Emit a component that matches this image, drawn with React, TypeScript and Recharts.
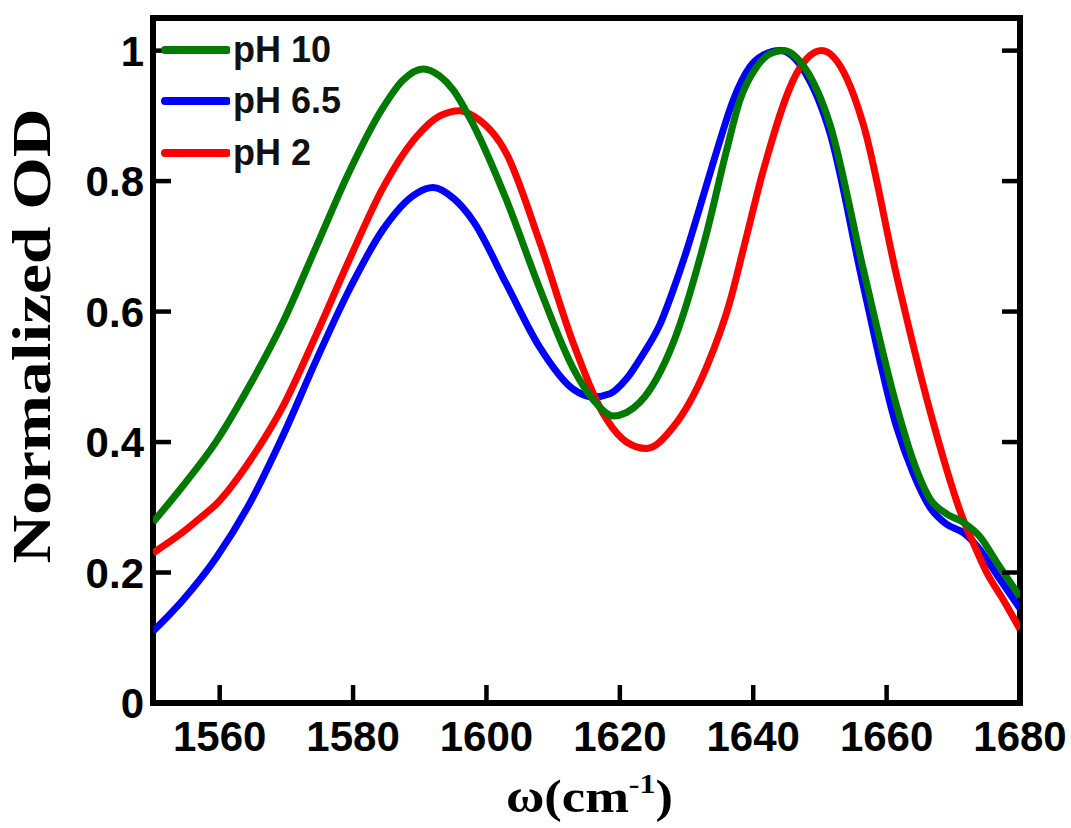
import React from 'react';
import {
  LineChart,
  Line,
  XAxis,
  YAxis,
  ReferenceArea,
  Label,
} from 'recharts';

// wavenumber (cm-1) / normalized OD
const pH10X = [1550, 1554.5, 1559.5, 1564.5, 1569.5, 1574.5, 1579.5, 1584.5, 1587.5, 1590.5, 1593, 1595, 1598, 1603, 1608, 1613, 1616, 1619, 1623, 1628, 1633, 1636, 1638, 1640.5, 1642.5, 1644.5, 1647.5, 1651.5, 1656.5, 1661.5, 1664, 1666.5, 1669, 1671.5, 1674, 1676.5, 1680];
const pH10Y = [0.277, 0.333, 0.401, 0.487, 0.584, 0.7, 0.816, 0.913, 0.955, 0.972, 0.961, 0.94, 0.887, 0.771, 0.635, 0.513, 0.465, 0.44, 0.461, 0.552, 0.72, 0.847, 0.924, 0.975, 0.995, 1.0, 0.977, 0.887, 0.665, 0.455, 0.371, 0.313, 0.29, 0.277, 0.255, 0.216, 0.163];

const pH65X = [1550, 1554.5, 1559.5, 1564.5, 1569.5, 1574.5, 1579.5, 1584.5, 1589.5, 1592, 1595, 1598, 1603, 1608, 1613, 1616, 1618.5, 1621, 1623.5, 1626, 1628, 1630, 1632, 1634.5, 1637, 1639.5, 1641.5, 1644, 1647.5, 1651.5, 1656.5, 1661.5, 1664, 1666.5, 1669, 1671.5, 1674, 1676.5, 1680];
const pH65Y = [0.11, 0.158, 0.223, 0.306, 0.41, 0.526, 0.635, 0.726, 0.781, 0.79, 0.774, 0.739, 0.642, 0.545, 0.481, 0.469, 0.474, 0.497, 0.535, 0.58, 0.633, 0.693, 0.76, 0.845, 0.924, 0.975, 0.993, 1.0, 0.971, 0.874, 0.64, 0.423, 0.352, 0.3, 0.274, 0.261, 0.235, 0.197, 0.145];

const pH2X = [1550, 1554.5, 1557, 1559.5, 1564.5, 1569.5, 1574.5, 1579.5, 1584.5, 1589.5, 1593, 1596, 1598, 1603, 1608, 1613, 1618, 1621, 1624, 1628, 1633, 1636.5, 1638.5, 1641.5, 1646.5, 1650.25, 1654, 1656.5, 1661.5, 1666.5, 1671.5, 1673, 1675, 1677.5, 1680];
const pH2Y = [0.23, 0.262, 0.283, 0.305, 0.371, 0.455, 0.565, 0.681, 0.79, 0.868, 0.9, 0.908, 0.9, 0.842, 0.706, 0.552, 0.435, 0.4, 0.39, 0.423, 0.515, 0.615, 0.695, 0.816, 0.965, 1.0, 0.958, 0.887, 0.655, 0.448, 0.281, 0.245, 0.2, 0.158, 0.113];

const xTicks = [1560, 1580, 1600, 1620, 1640, 1660, 1680];
const yTicks = [0, 0.2, 0.4, 0.6, 0.8, 1];

const toPoints = (xs: number[], ys: number[]) => xs.map((w, i) => ({ w, od: ys[i] }));

// legend order matches the reference (top to bottom)
const series = [
  { name: 'pH 10', color: '#007a00', data: toPoints(pH10X, pH10Y) },
  { name: 'pH 6.5', color: '#0000ff', data: toPoints(pH65X, pH65Y) },
  { name: 'pH 2', color: '#ff0000', data: toPoints(pH2X, pH2Y) },
];
// drawing order: blue first, then red, green on top
const drawOrder = [1, 2, 0];

const tickFont = "'Liberation Sans', Arial, sans-serif";
const titleFont = "'Liberation Serif', 'Times New Roman', serif";
const TICK_LEN = 18;

const BottomTick = ({ x, y, payload }: any) => (
  <g>
    <line x1={x} x2={x} y1={y} y2={y - TICK_LEN} stroke="#000" strokeWidth={4.5} />
    <text x={x} y={y + 48} textAnchor="middle" fontFamily={tickFont} fontWeight="bold" fontSize={42} fill="#000">
      {payload.value}
    </text>
  </g>
);

const TopTick = ({ x, y }: any) => (
  <line x1={x} x2={x} y1={y} y2={y + TICK_LEN} stroke="#000" strokeWidth={4.5} />
);

const LeftTick = ({ x, y, payload }: any) => (
  <g>
    <line x1={x} x2={x + TICK_LEN} y1={y} y2={y} stroke="#000" strokeWidth={4.5} />
    <text x={x - 9} y={y + 15} textAnchor="end" fontFamily={tickFont} fontWeight="bold" fontSize={42} fill="#000">
      {String(payload.value)}
    </text>
  </g>
);

const RightTick = ({ x, y }: any) => (
  <line x1={x} x2={x - TICK_LEN} y1={y} y2={y} stroke="#000" strokeWidth={4.5} />
);

// legend sits inside the plot, top-left; drawn as an overlay so it takes no chart space
const LegendBox = () => (
  <div style={{ position: 'absolute', left: 160, top: 24, display: 'flex', flexDirection: 'column' }}>
    {series.map((s) => (
      <div key={s.name} style={{ display: 'flex', alignItems: 'center', height: 51.5 }}>
        <svg width={70} height={12}>
          <line x1={5} x2={67} y1={6} y2={6} stroke={s.color} strokeWidth={8} strokeLinecap="round" />
        </svg>
        <span
          style={{
            marginLeft: 3,
            fontFamily: tickFont,
            fontWeight: 'bold',
            fontSize: 36,
            color: '#111',
            lineHeight: '36px',
          }}
        >
          {s.name}
        </span>
      </div>
    ))}
  </div>
);

export default function App() {
  return (
    <div style={{ position: 'absolute', left: 0, top: 0, width: 1071, height: 828, background: '#fff' }}>
      <LineChart width={1071} height={828} margin={{ top: 8, right: 41, bottom: 65, left: 83 }}>
        <XAxis
          xAxisId="b"
          type="number"
          dataKey="w"
          domain={[1550, 1680]}
          ticks={xTicks}
          axisLine={false}
          tickLine={false}
          tickSize={0}
          tickMargin={0}
          height={60}
          tick={<BottomTick />}
          interval={0}
          allowDataOverflow
        >
          <Label
            content={() => (
              <text x={506} y={812} textLength={167} lengthAdjust="spacingAndGlyphs" fontFamily={titleFont} fontWeight="bold" fontSize={46} fill="#000">
                ω(cm<tspan dy={-19} fontSize={28}>-1</tspan><tspan dy={19}>)</tspan>
              </text>
            )}
          />
        </XAxis>
        <XAxis
          xAxisId="t"
          orientation="top"
          type="number"
          domain={[1550, 1680]}
          ticks={xTicks.slice(0, -1)}
          axisLine={false}
          tickLine={false}
          tickSize={0}
          tickMargin={0}
          height={10}
          tick={<TopTick />}
          interval={0}
          allowDataOverflow
        />
        <YAxis
          yAxisId="l"
          type="number"
          domain={[0, 1.05]}
          ticks={yTicks}
          axisLine={false}
          tickLine={false}
          tickSize={0}
          tickMargin={0}
          width={70}
          tick={<LeftTick />}
          interval={0}
          allowDataOverflow
        >
          <Label
            content={() => (
              <text
                x={50}
                y={336}
                transform="rotate(-90, 50, 336)"
                textAnchor="middle"
                textLength={455}
                lengthAdjust="spacingAndGlyphs"
                fontFamily={titleFont}
                fontWeight="bold"
                fontSize={54}
                fill="#000"
              >
                Normalized OD
              </text>
            )}
          />
        </YAxis>
        <YAxis
          yAxisId="r"
          orientation="right"
          type="number"
          domain={[0, 1.05]}
          ticks={yTicks.slice(1)}
          axisLine={false}
          tickLine={false}
          tickSize={0}
          tickMargin={0}
          width={10}
          tick={<RightTick />}
          interval={0}
          allowDataOverflow
        />
        {drawOrder.map((i) => {
          const s = series[i];
          return (
            <Line
              key={s.name}
              xAxisId="b"
              yAxisId="l"
              data={s.data}
              dataKey="od"
              name={s.name}
              type="monotone"
              stroke={s.color}
              strokeWidth={7}
              dot={false}
              activeDot={false}
              isAnimationActive={false}
            />
          );
        })}
        <ReferenceArea
          xAxisId="b"
          yAxisId="l"
          x1={1550}
          x2={1680}
          y1={0}
          y2={1.05}
          fill="none"
          stroke="#000"
          strokeWidth={6}
          ifOverflow="visible"
        />
      </LineChart>
      <LegendBox />
    </div>
  );
}
